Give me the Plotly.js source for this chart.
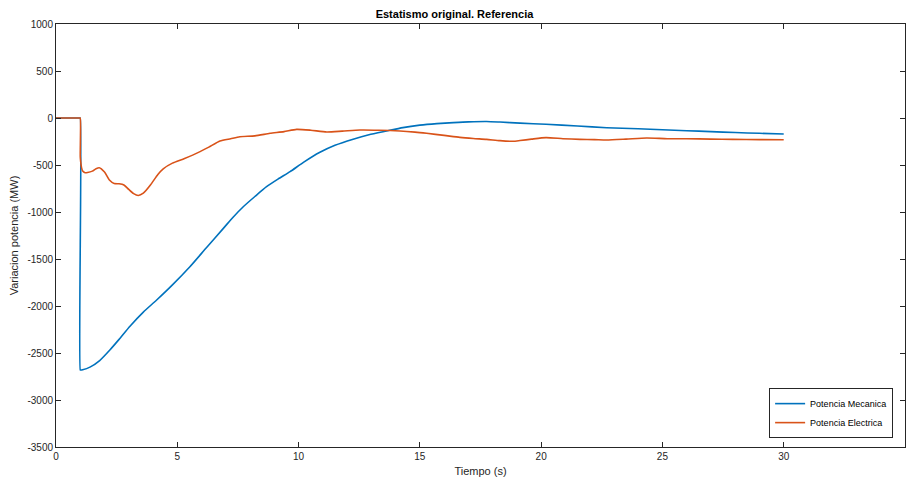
<!DOCTYPE html>
<html>
<head>
<meta charset="utf-8">
<script src="https://cdn.plot.ly/plotly-3.0.1.min.js"></script>
<style>html,body{margin:0;padding:0;background:#fff;}#chart{width:909px;height:483px;}</style>
</head>
<body>
<div id="chart"></div>
<script>
var seriesNames = ["Potencia Mecanica", "Potencia Electrica"];

var tMec = [0, 0.98, 1.0, 1.0, 1.02, 1.1, 1.4, 1.8, 2.23, 2.6, 3.05, 3.6, 4.15, 4.8, 5.52, 6.2, 6.9, 7.3, 7.72, 8.2, 8.68, 9.15, 9.65, 10.2, 10.88, 11.5, 12.25, 12.9, 13.63, 14.3, 15.0, 15.7, 16.38, 17.0, 17.75, 18.3, 19.13, 20.2, 21.5, 22.7, 24.0, 25.0, 26.0, 27.0, 28.0, 29.0, 30.0];
var pMec = [0, 0, 0, -2680, -2681, -2678, -2650, -2580, -2465, -2355, -2215, -2065, -1936, -1775, -1582, -1380, -1174, -1055, -944, -835, -731, -650, -571, -472, -365, -290, -225, -178, -138, -102, -76, -60, -49, -41, -37, -43, -55, -67, -85, -103, -115, -125, -135, -145, -155, -163, -170];

var tEle = [0, 0.98, 1.0, 1.0, 1.02, 1.05, 1.1, 1.2, 1.3, 1.5, 1.65, 1.78, 2.0, 2.2, 2.4, 2.6, 2.8, 3.0, 3.2, 3.39, 3.6, 3.9, 4.2, 4.42, 4.8, 5.3, 5.94, 6.3, 6.76, 7.2, 7.58, 8.2, 8.82, 9.4, 9.92, 10.5, 11.16, 11.8, 12.53, 13.3, 14.18, 14.8, 15.28, 16.0, 16.65, 17.2, 17.75, 18.3, 18.84, 19.13, 19.6, 20.2, 20.9, 21.6, 22.2, 22.7, 23.5, 24.35, 25.2, 26.0, 27.0, 27.9, 29.0, 30.0];
var pEle = [0, 0, 0, -411, -470, -525, -565, -582, -580, -565, -540, -529, -575, -660, -697, -700, -712, -760, -805, -825, -800, -710, -600, -540, -480, -430, -358, -310, -245, -220, -199, -190, -163, -145, -121, -130, -149, -140, -128, -130, -138, -150, -163, -185, -206, -218, -227, -241, -248, -240, -225, -209, -220, -227, -230, -234, -225, -213, -220, -220, -225, -227, -230, -231];

var xTicks = [0, 5, 10, 15, 20, 25, 30, 35];
var yTicks = [1000, 500, 0, -500, -1000, -1500, -2000, -2500, -3000, -3500];

var font = "Liberation Sans, Arial, sans-serif";
var axisColor = "#262626";

var traces = [
  {x: tMec, y: pMec, name: seriesNames[0], type: "scatter", mode: "lines",
   line: {color: "#0072BD", width: 1.6, shape: "spline", smoothing: 0.6}},
  {x: tEle, y: pEle, name: seriesNames[1], type: "scatter", mode: "lines",
   line: {color: "#D95319", width: 1.6, shape: "spline", smoothing: 0.6}}
];

var layout = {
  width: 909, height: 483,
  margin: {l: 56, r: 4, t: 24, b: 36},
  paper_bgcolor: "#fff", plot_bgcolor: "#fff",
  font: {family: font, size: 10, color: axisColor},
  title: {text: "<b>Estatismo original. Referencia</b>", font: {family: font, size: 11, color: "#000"},
          x: 0.5, xanchor: "center", y: 1, yref: "paper", yanchor: "bottom", pad: {b: 6}},
  xaxis: {range: [0, 35], tickvals: xTicks, ticktext: xTicks.map(String),
          showgrid: false, zeroline: false, showline: true, mirror: "ticks",
          linecolor: axisColor, linewidth: 1, ticks: "inside", ticklen: 5, tickcolor: axisColor,
          tickfont: {size: 10, color: axisColor},
          title: {text: "Tiempo (s)", font: {size: 11, color: axisColor}, standoff: 6}},
  yaxis: {range: [-3500, 1000], tickvals: yTicks, ticktext: yTicks.map(String),
          showgrid: false, zeroline: false, showline: true, mirror: "ticks",
          linecolor: axisColor, linewidth: 1, ticks: "inside", ticklen: 5, tickcolor: axisColor,
          tickfont: {size: 10, color: axisColor},
          title: {text: "Variacion potencia (MW)", font: {size: 11, color: axisColor}, standoff: 6}},
  showlegend: true,
  legend: {x: 0.986, y: 0.021, xanchor: "right", yanchor: "bottom",
           bgcolor: "#fff", bordercolor: axisColor, borderwidth: 1,
           font: {size: 9, color: "#000"}, tracegroupgap: 0, itemwidth: 30}
};

Plotly.newPlot("chart", traces, layout, {displayModeBar: false, staticPlot: true});
</script>
</body>
</html>
